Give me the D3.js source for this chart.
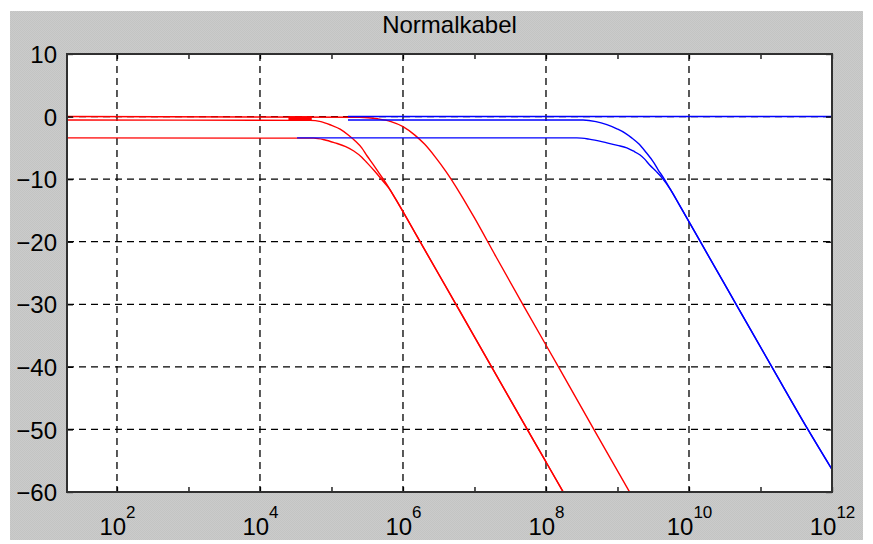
<!DOCTYPE html>
<html>
<head>
<meta charset="utf-8">
<script src="https://cdn.jsdelivr.net/npm/d3@7"></script>
<style>
  body { margin: 0; background: #fff; }
  text { font-family: "Liberation Sans", Arial, sans-serif; fill: #000; }
</style>
</head>
<body>
<div id="drawing"></div>
<script>
// chart data
var titleText = "Normalkabel";
var yTicks = [10, 0, -10, -20, -30, -40, -50, -60];
var xMajor = [1e2, 1e4, 1e6, 1e8, 1e10, 1e12];
var xMinor = [1e3, 1e5, 1e7, 1e9, 1e11];
var xLabelBase = "10";
var xLabelExp = ["2", "4", "6", "8", "10", "12"];

// red curves
var redFreqA = [20, 2.5e5, 4.4e5, 6.8e5, 1e6, 1.48e6, 2e6, 2.8e6, 4e6, 6.3e6, 1e7, 2e7, 5e7, 1.6e8, 5e8, 1.6e9];
var redDbA   = [0, -0.1, -0.35, -0.8, -1.6, -3.0, -4.4, -6.4, -8.8, -12.3, -16.2, -22.4, -30.5, -40.6, -50.6, -60.7];
var redFreqB = [20, 5e4, 7.1e4, 1e5, 1.32e5, 1.7e5, 2.15e5, 2.65e5, 3.15e5, 3.8e5, 4.6e5, 5.75e5, 7.9e5, 1.26e6, 3.15e6, 1e7, 3.15e7, 1e8, 2e8];
var redDbB   = [-0.55, -0.6, -0.8, -1.4, -2.0, -2.9, -3.9, -5.0, -6.3, -7.6, -9.0, -10.6, -13.2, -17.2, -25.2, -35.2, -45.2, -55.2, -61.2];
var redFreqC = [20, 5.6e4, 7.9e4, 1.12e5, 1.58e5, 2.05e5, 2.65e5, 3.15e5, 4e5, 4.9e5, 6.3e5, 8.9e5, 1.58e6, 4e6, 1e7, 3.15e7, 1e8, 2e8];
var redDbC   = [-3.4, -3.45, -3.7, -4.2, -4.8, -5.5, -6.5, -7.4, -8.7, -9.9, -11.4, -14.2, -19.2, -27.2, -35.2, -45.2, -55.2, -61.2];
// short overlapping piece near 0 dB
var redFreqStub = [2.5e4, 5.3e4];
var redDbStub   = [-0.25, -0.25];

// blue curves
var blueFreqA = [1.7e5, 1e12];
var blueDbA   = [0, 0];
var blueFreqB = [1.7e5, 3.3e8, 5e8, 7.1e8, 1e9, 1.26e9, 1.58e9, 2e9, 2.5e9, 3.15e9, 3.7e9, 4.4e9, 5.6e9, 7.4e9, 1.58e10, 5e10, 1.58e11, 4.6e11, 1e12];
var blueDbB   = [-0.55, -0.55, -0.8, -1.3, -2.0, -2.6, -3.4, -4.4, -5.7, -7.2, -8.5, -9.8, -11.8, -14.2, -20.8, -30.8, -40.8, -50, -56.4];
var blueFreqC = [3.3e4, 2.7e8, 4e8, 7.1e8, 1e9, 1.35e9, 1.66e9, 2.05e9, 2.4e9, 2.8e9, 3.5e9, 4.2e9, 5.6e9, 7.4e9, 1.58e10, 5e10, 1.58e11, 4.6e11, 1e12];
var blueDbC   = [-3.4, -3.4, -3.6, -4.2, -4.6, -5.0, -5.5, -6.1, -6.8, -7.7, -8.8, -9.8, -11.8, -14.2, -20.8, -30.8, -40.8, -50, -56.4];

var width = 873;
var height = 544;
var margin = {top: 54, right: 41, bottom: 52, left: 67};
var plotW = width - margin.left - margin.right;
var plotH = height - margin.top - margin.bottom;

var drawing = d3.select("#drawing").append("svg")
  .attr("width", width)
  .attr("height", height);

// grey panel texture
var defs = drawing.append("defs");
var pat = defs.append("pattern")
  .attr("id", "greyTex")
  .attr("width", 2).attr("height", 2)
  .attr("patternUnits", "userSpaceOnUse");
pat.append("rect").attr("width", 2).attr("height", 2).attr("fill", "#cbcbcb");
pat.append("rect").attr("width", 1).attr("height", 1).attr("fill", "#c3c4c3");
pat.append("rect").attr("x", 1).attr("y", 1).attr("width", 1).attr("height", 1).attr("fill", "#c3c4c3");

defs.append("clipPath").attr("id", "plotClip")
  .append("rect").attr("width", plotW).attr("height", plotH);

drawing.append("rect")
  .attr("x", 10).attr("y", 11)
  .attr("width", 853).attr("height", 529)
  .attr("fill", "url(#greyTex)");

var drawingArea = drawing.append("g")
  .attr("transform", `translate(${margin.left}, ${margin.top})`);

drawingArea.append("rect")
  .attr("width", plotW).attr("height", plotH)
  .attr("fill", "#fff");

// scales
var xScale = d3.scaleLog().domain([20, 1e12]).range([0, plotW]);
var yScale = d3.scaleLinear().domain([-60, 10]).range([plotH, 0]);

// dashed grid
var gridX = xMajor.filter((d) => d < 1e12);
drawingArea.append("g").selectAll("line")
  .data(gridX).enter().append("line")
  .attr("x1", (d) => xScale(d)).attr("x2", (d) => xScale(d))
  .attr("y1", 0).attr("y2", plotH)
  .style("stroke", "#000").style("stroke-width", 1.3)
  .style("stroke-dasharray", "7,5");

var gridY = yTicks.filter((d) => d < 10 && d > -60);
drawingArea.append("g").selectAll("line")
  .data(gridY).enter().append("line")
  .attr("x1", 0).attr("x2", plotW)
  .attr("y1", (d) => yScale(d)).attr("y2", (d) => yScale(d))
  .style("stroke", "#000").style("stroke-width", 1.3)
  .style("stroke-dasharray", "7,5");

// curves
var lineGenerator = d3.line()
  .x((d) => xScale(d[0]))
  .y((d) => yScale(d[1]))
  .curve(d3.curveMonotoneX);

function pairs(f, db) { return f.map((v, i) => [v, db[i]]); }

var redSeries = [pairs(redFreqA, redDbA), pairs(redFreqB, redDbB), pairs(redFreqC, redDbC)];
var blueSeries = [pairs(blueFreqA, blueDbA), pairs(blueFreqB, blueDbB), pairs(blueFreqC, blueDbC)];

var curves = drawingArea.append("g").attr("clip-path", "url(#plotClip)");
curves.selectAll(".red").data(redSeries).enter().append("path")
  .attr("class", "red")
  .attr("d", lineGenerator)
  .style("fill", "none").style("stroke", "#ff0000").style("stroke-width", 1.4);
curves.append("path")
  .attr("d", lineGenerator(pairs(redFreqStub, redDbStub)))
  .style("fill", "none").style("stroke", "#ff0000").style("stroke-width", 4);
curves.selectAll(".blue").data(blueSeries).enter().append("path")
  .attr("class", "blue")
  .attr("d", lineGenerator)
  .style("fill", "none").style("stroke", "#0000ff").style("stroke-width", 1.4);

// axes (ticks point inward)
var xTickVals = xMajor.concat(xMinor).sort((a, b) => a - b);
var xBottom = drawingArea.append("g")
  .attr("transform", `translate(0, ${plotH})`)
  .call(d3.axisBottom(xScale).tickValues(xTickVals).tickSize(-5).tickPadding(26).tickFormat(""));
drawingArea.append("g")
  .call(d3.axisTop(xScale).tickValues(xTickVals).tickSize(-5).tickFormat(""));
var yLeft = drawingArea.append("g")
  .call(d3.axisLeft(yScale).tickValues(yTicks).tickSize(-6).tickPadding(10).tickFormat(d3.format("d")));
drawingArea.append("g")
  .attr("transform", `translate(${plotW}, 0)`)
  .call(d3.axisRight(yScale).tickValues(yTicks).tickSize(-6).tickFormat(""));

drawingArea.selectAll(".domain").remove();
drawingArea.selectAll(".tick line").style("stroke", "#000").style("stroke-width", 1.3);

yLeft.selectAll(".tick text")
  .style("font-size", "24px")
  .attr("dy", "0.36em")
  .style("font-family", '"Liberation Sans", Arial, sans-serif');

// x labels: 10 with superscript exponent
xBottom.selectAll(".tick text")
  .style("font-size", "24px")
  .style("font-family", '"Liberation Sans", Arial, sans-serif')
  .each(function(d) {
    var i = xMajor.indexOf(d);
    if (i < 0) return;
    var t = d3.select(this);
    t.text(xLabelBase);
    t.append("tspan").attr("dy", -17).style("font-size", "17px").text(xLabelExp[i]);
  });

// plot frame
drawingArea.append("rect")
  .attr("width", plotW).attr("height", plotH)
  .style("fill", "none").style("stroke", "#303030").style("stroke-width", 2);

// title
drawing.append("text")
  .attr("x", margin.left + plotW / 2)
  .attr("y", 33)
  .attr("text-anchor", "middle")
  .style("font-size", "24px")
  .text(titleText);
</script>
</body>
</html>
